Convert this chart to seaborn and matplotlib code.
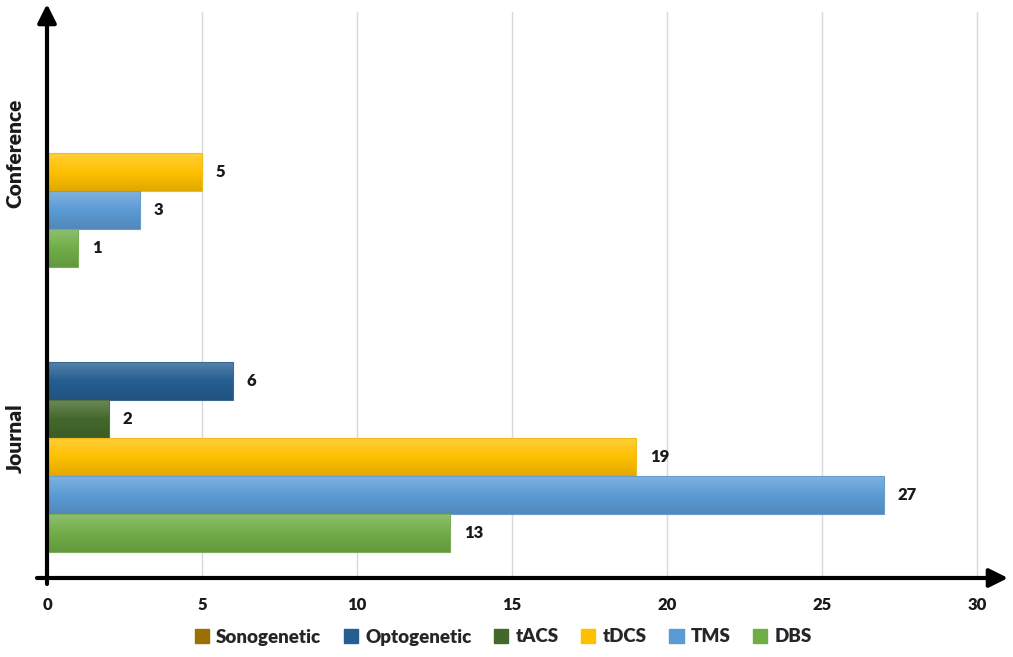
import numpy as np
import pandas as pd
import matplotlib
matplotlib.use("Agg")
import matplotlib.pyplot as plt
import matplotlib.colors as mcolors
import seaborn as sns

categories = ["Conference", "Journal"]
series = ["Sonogenetic", "Optogenetic", "tACS", "tDCS", "TMS", "DBS"]
conference_values = [0, 0, 0, 5, 3, 1]
journal_values = [0, 6, 2, 19, 27, 13]
x_ticks = [0, 5, 10, 15, 20, 25, 30]
colors = ["#9C7000", "#255E91", "#43682B", "#FFC000", "#5B9BD5", "#70AD47"]

rows = []
for s, v in zip(series, conference_values):
    rows.append({"category": "Conference", "series": s, "value": v})
for s, v in zip(series, journal_values):
    rows.append({"category": "Journal", "series": s, "value": v})
df = pd.DataFrame(rows)

sns.set_style("white")
plt.rcParams["font.family"] = ["Lato", "DejaVu Sans"]
plt.rcParams["font.weight"] = "heavy"
FW = "heavy"

fig = plt.figure(figsize=(10.13, 6.57), dpi=100)
W, H = 1013, 657
ax = fig.add_axes([47 / W, 1 - 578 / H, (1007 - 47) / W, (578 - 12) / H])

palette = dict(zip(series, colors))
sns.barplot(data=df, y="category", x="value", hue="series", order=categories,
            hue_order=series, palette=palette, orient="h", width=0.8,
            ax=ax, legend=False, saturation=1, errorbar=None)

ax.set_xlim(0, 960 / 31)
ax.set_ylim(1.491, -0.495)

# gradient fill on bars
for patch in list(ax.patches):
    x0, y0 = patch.get_x(), patch.get_y()
    w, h = patch.get_width(), patch.get_height()
    if w <= 0:
        patch.set_visible(False)
        continue
    base = np.array(mcolors.to_rgb(patch.get_facecolor()))
    light = base + (1 - base) * 0.22
    dark = base * 0.88
    t = np.linspace(0, 1, 64)[:, None]
    grad = np.where(t < 0.5, light + (base - light) * (t / 0.5),
                    base + (dark - base) * ((t - 0.5) / 0.5))
    img = grad[:, None, :].repeat(2, axis=1)
    im = ax.imshow(img, extent=[x0, x0 + w, y0 + h, y0], aspect="auto",
                   origin="upper", zorder=2, interpolation="bilinear")
    im.set_clip_path(patch)
    patch.set_edgecolor(tuple(np.clip(base * 0.85 + 0.1, 0, 1)))
    patch.set_linewidth(0.8)
    patch.set_facecolor("none")
    patch.set_zorder(3)

ax.set_xlim(0, 960 / 31)
ax.set_ylim(1.491, -0.495)

# value labels
for cont in ax.containers:
    labels = [f"{int(b.get_width())}" if b.get_width() > 0 else "" for b in cont]
    ax.bar_label(cont, labels=labels, padding=10, fontsize=12, fontweight=FW,
                 color="#1a1a1a")

# grid
ax.set_xticks(x_ticks)
ax.xaxis.grid(True, color="#D9D9D9", linewidth=1)
ax.yaxis.grid(False)
ax.set_axisbelow(True)
ax.tick_params(axis="x", length=0, pad=14, labelsize=12, labelcolor="#1a1a1a")
ax.set_xticklabels([str(t) for t in x_ticks], fontweight=FW)
ax.tick_params(axis="y", length=0, pad=16)
ax.set_yticklabels(categories, rotation=90, va="center", fontsize=15,
                   fontweight=FW, color="#1a1a1a")
ax.set_xlabel("")
ax.set_ylabel("")
for sp in ax.spines.values():
    sp.set_visible(False)

# axis arrows (figure coordinates)
fig.add_artist(matplotlib.patches.FancyArrowPatch(
    (37 / W, 1 - 578 / H), (1008 / W, 1 - 578 / H), transform=fig.transFigure,
    arrowstyle="-|>,head_length=0.8,head_width=0.4", mutation_scale=14,
    color="black", linewidth=3, shrinkA=0, shrinkB=0))
fig.add_artist(matplotlib.patches.FancyArrowPatch(
    (47 / W, 1 - 584 / H), (47 / W, 1 - 4 / H), transform=fig.transFigure,
    arrowstyle="-|>,head_length=0.8,head_width=0.4", mutation_scale=14,
    color="black", linewidth=3, shrinkA=0, shrinkB=0))

# legend
handles = [matplotlib.patches.Patch(facecolor=c, edgecolor=mcolors.to_rgba(c, 1)) for c in colors]
fig.legend(handles, series, loc="center", bbox_to_anchor=(0.497, 1 - 637 / H),
           ncol=6, frameon=False, handlelength=0.75, handleheight=0.75,
           handletextpad=0.4, columnspacing=1.2, prop={"weight": FW, "size": 13.5})

fig.savefig("out.png", dpi=100)
